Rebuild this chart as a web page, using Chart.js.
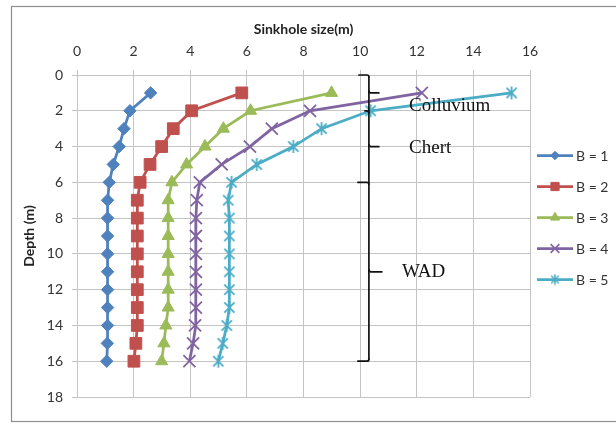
<!DOCTYPE html>
<html><head><meta charset="utf-8">
<script src="https://cdn.jsdelivr.net/npm/chart.js@4.4.0/dist/chart.umd.min.js"></script>
<style>html,body{margin:0;padding:0;background:#fff;} #wrap{width:616px;height:424px;position:relative}</style>
</head><body><div id="wrap"><canvas id="c" width="616" height="424"></canvas></div>
<script>
// ---- data ----
const depths = [1,2,3,4,5,6,7,8,9,10,11,12,13,14,15,16];
const seriesNames = ['B = 1','B = 2','B = 3','B = 4','B = 5'];
const b1 = [2.60,1.87,1.66,1.49,1.28,1.14,1.08,1.08,1.08,1.08,1.08,1.08,1.08,1.08,1.07,1.05];
const b2 = [5.82,4.05,3.40,2.99,2.58,2.23,2.13,2.13,2.13,2.13,2.13,2.13,2.13,2.13,2.08,2.01];
const b3 = [8.99,6.13,5.17,4.52,3.87,3.35,3.22,3.22,3.22,3.22,3.22,3.22,3.22,3.14,3.07,2.99];
const b4 = [12.18,8.23,6.88,6.11,5.11,4.34,4.23,4.20,4.20,4.20,4.20,4.20,4.20,4.17,4.10,3.97];
const b5 = [15.35,10.37,8.64,7.64,6.35,5.46,5.34,5.38,5.38,5.38,5.38,5.38,5.38,5.29,5.15,4.99];
const xTicks = [0,2,4,6,8,10,12,14,16];
const yTicks = [0,2,4,6,8,10,12,14,16,18];
const layerNames = ['Colluvium','Chert','WAD'];
const layerTop = [0,2,6];
const layerBottom = [2,6,16];

// ---- styles ----
const colors = ['#4F81BD','#C0504D','#9BBB59','#8064A2','#4BACC6'];
function asterisk(size, color, lw){
  const c = document.createElement('canvas');
  c.width = size; c.height = size;
  const g = c.getContext('2d');
  g.strokeStyle = color; g.lineWidth = lw;
  const m = lw/2+0.5, e = size - m, h = size/2;
  g.beginPath();
  g.moveTo(m+1,m+1); g.lineTo(e-1,e-1);
  g.moveTo(e-1,m+1); g.lineTo(m+1,e-1);
  g.moveTo(h,m-0.5); g.lineTo(h,e+0.5);
  g.stroke();
  return c;
}
const starBig = asterisk(15, colors[4], 1.8);
const starSmall = asterisk(12, colors[4], 1.5);
const pointStyles = ['rectRot','rect','triangle','crossRot',starBig];
const pointRadii = [6.2,8.3,7,8.5,7.5];
const legendStyles = ['rectRot','rect','triangle','crossRot',starSmall];
const legendRadii = [4.2,5.8,5.2,6.2,6];

const allSeries = [b1,b2,b3,b4,b5];
const datasets = allSeries.map((s,i)=>({
  label: seriesNames[i],
  data: s.map((v,k)=>({x:v, y:depths[k]})),
  showLine: true,
  borderColor: colors[i],
  backgroundColor: colors[i],
  borderWidth: 2.75,
  tension: 0,
  pointStyle: pointStyles[i],
  pointRadius: pointRadii[i],
  pointHoverRadius: pointRadii[i],
  pointBorderWidth: (i===3)?1.8:1,
  pointBorderColor: colors[i],
  pointBackgroundColor: colors[i]
}));

const tickFont = {family:'Lato', size:14};
const titleFont = {family:'Lato', size:14, weight:'bold'};
const gridColor = '#c4c4c4';

const frame = {
  id:'frame',
  beforeDraw(chart){
    const ctx = chart.ctx;
    ctx.save();
    ctx.fillStyle = '#fff';
    ctx.fillRect(0,0,chart.width,chart.height);
    ctx.strokeStyle = '#8f8f8f';
    ctx.lineWidth = 1.2;
    ctx.strokeRect(11.5,6.5,700,415);
    ctx.restore();
  }
};

const braces = {
  id:'braces',
  afterDatasetsDraw(chart){
    const ctx = chart.ctx, xs = chart.scales.x, ys = chart.scales.y;
    const bx = xs.getPixelForValue(10.31);
    ctx.save();
    ctx.strokeStyle = '#111';
    ctx.lineWidth = 1.7;
    ctx.lineCap = 'round';
    const hook = (yv, len) => {
      const y = ys.getPixelForValue(yv);
      ctx.beginPath();
      ctx.moveTo(bx - len, y);
      ctx.lineTo(bx - 2, y);
      ctx.quadraticCurveTo(bx, y, bx, y + (yv===layerBottom[2]? -2 : 2));
      ctx.stroke();
    };
    ctx.beginPath();
    ctx.moveTo(bx, ys.getPixelForValue(layerTop[0]) + 2);
    ctx.lineTo(bx, ys.getPixelForValue(layerBottom[2]) - 2);
    ctx.stroke();
    hook(layerTop[0], 10);
    hook(layerTop[1], 4);
    hook(layerTop[2], 11);
    hook(layerBottom[2], 11);
    layerNames.forEach((n,i)=>{
      const mid = (layerTop[i]+layerBottom[i])/2;
      const y = ys.getPixelForValue(mid);
      ctx.beginPath();
      ctx.moveTo(bx, y - 2);
      ctx.quadraticCurveTo(bx, y, bx + 2, y);
      ctx.lineTo(bx + (i===2?13:10), y);
      ctx.stroke();
    });
    const lx = [11.73, 11.73, 11.48];
    const ly = [1.72, 4.08, 11.0];
    ctx.fillStyle = '#111';
    ctx.font = '19px "Liberation Serif", "Times New Roman", serif';
    ctx.textBaseline = 'middle';
    ctx.textAlign = 'left';
    layerNames.forEach((n,i)=>{
      ctx.fillText(n, xs.getPixelForValue(lx[i]), ys.getPixelForValue(ly[i]));
    });
    ctx.restore();
  }
};

const legendPlugin = {
  id:'customLegend',
  afterDraw(chart){
    const ctx = chart.ctx;
    ctx.save();
    chart.data.datasets.forEach((ds,i)=>{
      const y = 155.5 + i*31;
      ctx.strokeStyle = ds.borderColor;
      ctx.lineWidth = 2.75;
      ctx.beginPath(); ctx.moveTo(537,y); ctx.lineTo(573,y); ctx.stroke();
      ctx.fillStyle = ds.borderColor;
      ctx.lineWidth = (i===3)?1.6:1;
      Chart.helpers.drawPoint(ctx, {pointStyle: legendStyles[i], radius: legendRadii[i], rotation:0, borderWidth: ctx.lineWidth}, 555, y);
      ctx.fillStyle = '#333';
      ctx.font = '14px Lato';
      ctx.textBaseline = 'middle';
      ctx.textAlign = 'left';
      ctx.fillText(ds.label, 576, y+0.5);
    });
    ctx.restore();
  }
};

new Chart(document.getElementById('c'), {
  type:'scatter',
  data:{datasets},
  plugins:[frame, braces, legendPlugin],
  options:{
    responsive:false,
    animation:false,
    devicePixelRatio:1,
    layout:{padding:{left:11, top:6, right:86, bottom:27}},
    plugins:{legend:{display:false}, tooltip:{enabled:false}},
    scales:{
      x:{
        type:'linear', position:'top', min:0, max:16,
        afterBuildTicks: s => { s.ticks = xTicks.map(v=>({value:v})); },
        afterFit: s => { s.height = 69; },
        ticks:{font:tickFont, color:'#333', padding:10, maxRotation:0},
        grid:{color:gridColor, lineWidth:1, tickLength:5, drawTicks:true},
        border:{color:gridColor},
        title:{display:true, text:'Sinkhole size(m)', font:titleFont, color:'#222', padding:{top:15, bottom:0}}
      },
      y:{
        type:'linear', reverse:true, min:0, max:18,
        afterBuildTicks: s => { s.ticks = yTicks.map(v=>({value:v})); },
        afterFit: s => { s.width = 66; },
        ticks:{font:tickFont, color:'#333', padding:9},
        grid:{color:gridColor, lineWidth:1, tickLength:5, drawTicks:true},
        border:{color:gridColor},
        title:{display:true, text:'Depth (m)', font:titleFont, color:'#222', padding:{top:10, bottom:0}}
      }
    }
  }
});
</script>
</body></html>
